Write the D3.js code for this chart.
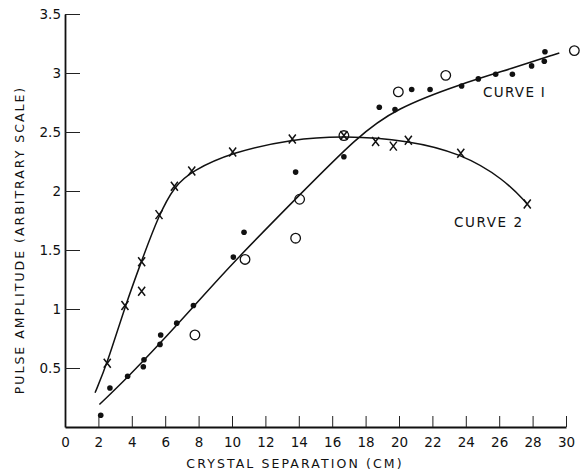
<!DOCTYPE html>
<html>
<head>
<meta charset="utf-8">
<script src="https://cdn.jsdelivr.net/npm/d3@7"></script>
<style>
  body { margin: 0; background: #fff; }
  svg text { font-family: "DejaVu Sans", sans-serif; fill: #111; }
</style>
</head>
<body>
<script>
// tick values
const xTicks = [0, 2, 4, 6, 8, 10, 12, 14, 16, 18, 20, 22, 24, 26, 28, 30];
const yTicks = [0.5, 1, 1.5, 2, 2.5, 3, 3.5];

// curve 1: filled dots, open circles, and drawn curve
const curve1Dots = [
    [2.14, 0.10], [2.69, 0.33], [3.75, 0.43], [4.73, 0.57], [4.69, 0.51],
    [5.69, 0.70], [5.73, 0.78], [6.69, 0.88], [7.69, 1.03], [10.08, 1.44],
    [10.72, 1.65], [13.81, 2.16], [16.7, 2.29], [18.82, 2.71], [19.76, 2.69],
    [20.76, 2.86], [21.86, 2.86], [23.75, 2.89], [24.75, 2.95], [25.79, 2.99],
    [26.79, 2.99], [27.94, 3.06], [28.7, 3.10], [28.74, 3.18]
];
const curve1Circles = [
    [7.78, 0.78], [10.78, 1.42], [13.81, 1.60], [14.05, 1.93], [16.7, 2.47],
    [19.96, 2.84], [22.8, 2.98], [30.5, 3.19]
];
const curve1Line = [
    [2.06, 0.19], [3.75, 0.42], [5.7, 0.71], [7.7, 1.02], [10.1, 1.40],
    [14, 1.96], [17.5, 2.46], [19.8, 2.70], [23.75, 2.91], [26.8, 3.04],
    [29.6, 3.17]
];

// curve 2: crosses and drawn curve
const curve2Crosses = [
    [2.53, 0.54], [3.59, 1.03], [4.59, 1.40], [4.59, 1.15], [5.63, 1.80],
    [6.55, 2.04], [7.59, 2.17], [10.04, 2.33], [13.61, 2.44], [16.7, 2.47],
    [18.6, 2.42], [19.66, 2.38], [20.56, 2.43], [23.7, 2.32], [27.68, 1.89]
];
const curve2Line = [
    [1.8, 0.29], [2.53, 0.54], [3.59, 1.02], [4.59, 1.41], [5.63, 1.80],
    [6.55, 2.04], [7.59, 2.17], [10.04, 2.33], [13.61, 2.44], [16.7, 2.47],
    [20.56, 2.43], [23.7, 2.32], [26.3, 2.10], [27.68, 1.89]
];

const width = 581, height = 474;

const x = d3.scaleLinear().domain([0, 30]).range([65, 566]);
const y = d3.scaleLinear().domain([0, 3.5]).range([427, 14]);

const svg = d3.select("body").append("svg")
    .attr("width", width)
    .attr("height", height);

// axes
const xAxis = svg.append("g")
    .attr("transform", "translate(0," + y(0) + ")")
    .call(d3.axisBottom(x).tickValues(xTicks).tickSizeInner(-11)
        .tickSizeOuter(0).tickPadding(10).tickFormat(d => d));
const yAxis = svg.append("g")
    .attr("transform", "translate(" + x(0) + ",0)")
    .call(d3.axisLeft(y).tickValues(yTicks).tickSizeInner(-15)
        .tickSizeOuter(0).tickPadding(4).tickFormat(d => d));

xAxis.selectAll(".tick").filter(d => d === 0).select("line").remove();
[xAxis, yAxis].forEach(a => {
    a.select(".domain").attr("stroke", "#111").attr("stroke-width", 1.8);
    a.selectAll(".tick line").attr("stroke", "#222").attr("stroke-width", 1);
    a.selectAll("text").attr("font-size", 13.5).attr("fill", "#111")
        .style("font-family", "'DejaVu Sans', sans-serif");
});

// axis titles
svg.append("text")
    .attr("x", 295).attr("y", 468)
    .attr("text-anchor", "middle")
    .attr("font-size", 12.5)
    .attr("letter-spacing", 2.1)
    .text("CRYSTAL SEPARATION (CM)");

svg.append("text")
    .attr("transform", "translate(24,240) rotate(-90)")
    .attr("text-anchor", "middle")
    .attr("font-size", 12.5)
    .attr("letter-spacing", 2.0)
    .text("PULSE AMPLITUDE (ARBITRARY SCALE)");

// fitted curves
const line = d3.line()
    .x(d => x(d[0]))
    .y(d => y(d[1]))
    .curve(d3.curveBasis);

svg.append("path")
    .datum(curve1Line)
    .attr("d", line)
    .attr("fill", "none")
    .attr("stroke", "#111")
    .attr("stroke-width", 1.5);

svg.append("path")
    .datum(curve2Line)
    .attr("d", line)
    .attr("fill", "none")
    .attr("stroke", "#111")
    .attr("stroke-width", 1.5);

// markers
svg.append("g").selectAll("circle")
    .data(curve1Dots)
    .enter().append("circle")
    .attr("cx", d => x(d[0]))
    .attr("cy", d => y(d[1]))
    .attr("r", 2.8)
    .attr("fill", "#111");

svg.append("g").selectAll("circle")
    .data(curve1Circles)
    .enter().append("circle")
    .attr("cx", d => x(d[0]))
    .attr("cy", d => y(d[1]))
    .attr("r", 4.8)
    .attr("fill", "none")
    .attr("stroke", "#111")
    .attr("stroke-width", 1.3);

svg.append("g").selectAll("path")
    .data(curve2Crosses)
    .enter().append("path")
    .attr("transform", d => "translate(" + x(d[0]) + "," + y(d[1]) + ")")
    .attr("d", "M-3.5,-4.5L3.5,4.5M3.5,-4.5L-3.5,4.5")
    .attr("fill", "none")
    .attr("stroke", "#111")
    .attr("stroke-width", 1.5);

// curve labels
svg.append("text")
    .attr("x", 483).attr("y", 97)
    .attr("font-size", 13.5)
    .attr("letter-spacing", 1.3)
    .text("CURVE I");

svg.append("text")
    .attr("x", 454).attr("y", 227)
    .attr("font-size", 13.5)
    .attr("letter-spacing", 1.6)
    .text("CURVE 2");
</script>
</body>
</html>
